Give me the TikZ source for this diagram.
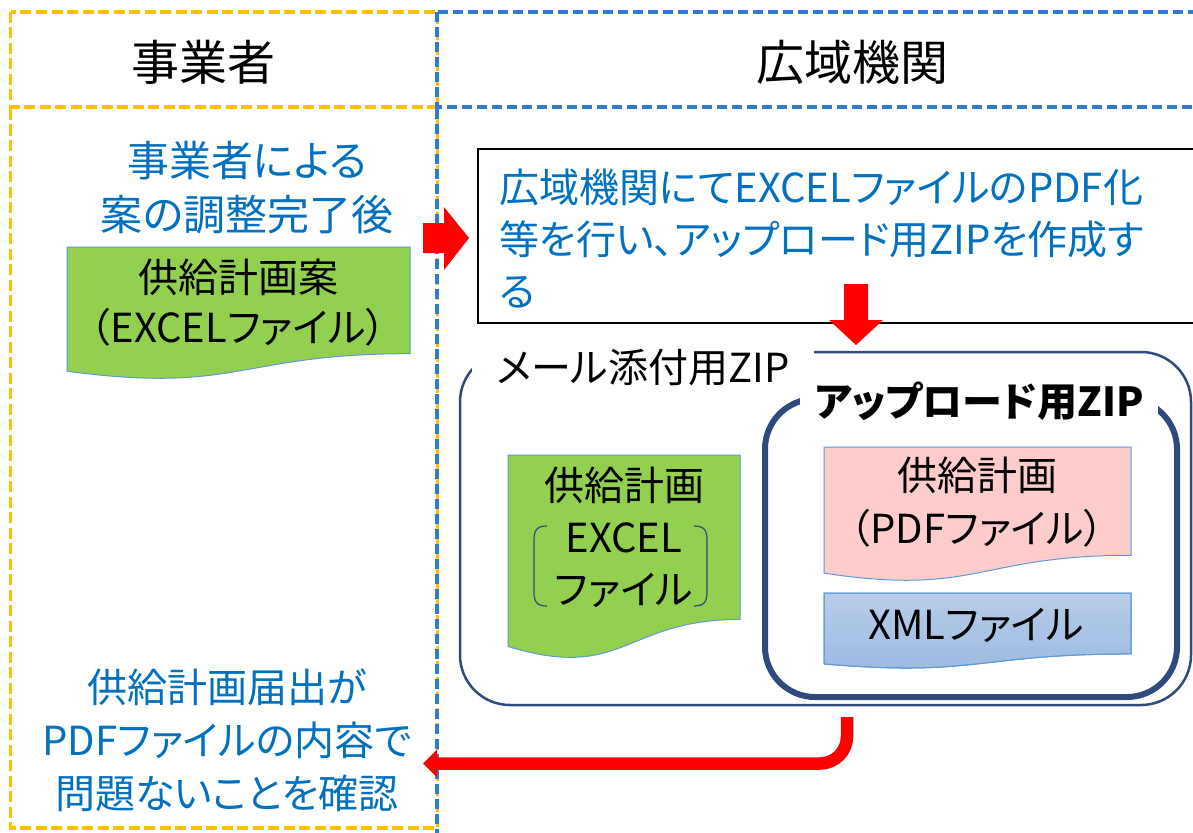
\documentclass[tikz,border=0pt]{standalone}
\usepackage{fontspec}
\setmainfont{Noto Sans CJK JP}[RawFeature=+palt]
\usetikzlibrary{arrows.meta}
\definecolor{ybox}{HTML}{FFC000}
\definecolor{bbox}{HTML}{2E7CD0}
\definecolor{btext}{HTML}{0070C0}
\definecolor{navy}{HTML}{2F4A7E}
\definecolor{gdoc}{HTML}{92D050}
\definecolor{docline}{HTML}{5B9BD5}
\definecolor{pdoc}{HTML}{FFCCCC}
\definecolor{xmltop}{HTML}{B8CDEA}
\definecolor{xmlbot}{HTML}{98B9E0}
\definecolor{redarrow}{HTML}{FF0000}
\newcommand\docpath[4]{(#1,#2) -- (#3,#2) -- (#3,{#2+0.802*#4}) .. controls ({(#1+#3)/2},{#2+0.802*#4}) and ({(#1+#3)/2},{#2+1.107*#4}) .. (#1,{#2+0.934*#4}) -- cycle}
\tikzset{
  ydash/.style={draw=ybox, line width=3.2, dash pattern=on 11 off 4.5},
  bdash/.style={draw=bbox, line width=3.2, dash pattern=on 10 off 5},
  txt/.style={font=\fontsize{40}{52}\selectfont, align=center, inner sep=0},
  headtxt/.style={font=\fontsize{48}{56}\selectfont, inner sep=0},
  bluetxt/.style={txt, text=btext},
  docbox/.style={draw=docline, line width=1},
  blockarrow/.style={fill=redarrow, draw=none},
}
\begin{document}
\begin{tikzpicture}[x=1pt,y=-1pt]
\useasboundingbox (0,0) rectangle (1193,832);
\clip (0,0) rectangle (1193,832);
% lanes
\draw[ydash] (10.5,12) rectangle (437.5,107);
\draw[ydash] (10.5,109) -- (10.5,828) -- (437.5,828) -- (437.5,109);
\draw[bdash] (437,12) rectangle (1210,107);
\draw[bdash] (437,109) -- (437,850);
\node[headtxt] (hjigyo) at (203,62) {事業者};
\node[headtxt] (hkoiki) at (852,62) {広域機関};
% left top text
\node[bluetxt, font=\fontsize{42}{54}\selectfont] (tstart) at (247,188) {事業者による\\案の調整完了後};
% green doc 1
\path[docbox, fill=gdoc] \docpath{67}{247}{410}{133};
\node[txt, font=\fontsize{40}{50}\selectfont] (draftdoc) at (238,303) {供給計画案\\（EXCELファイル）};
% right arrow
\coordinate (ra) at (423,238);
\path[blockarrow] (ra) ++(0,-15) -- ++(21,0) -- ++(0,-16) -- (469,238) -- (444,270) -- (444,253) -- (423,253) -- cycle;
% black box
\draw[black, line width=2] (478,149) rectangle (1220,323);
\node[bluetxt, align=left, anchor=west] (tstep) at (499,239) {広域機関にてEXCELファイルのPDF化\\等を行い、アップロード用ZIPを作成す\\る};
% down arrow
\path[blockarrow] (844,284) -- (868,284) -- (868,320) -- (883,320) -- (856,345) -- (829,320) -- (844,320) -- cycle;
% outer mail zip box
\draw[navy, line width=2.5, rounded corners=50] (460,352) rectangle (1191,705);
\node[txt, fill=white, minimum width=342, minimum height=52] (mailzip) at (643,368) {メール添付用ZIP};
% inner upload zip box
\draw[navy, line width=6, rounded corners=50] (765,399) rectangle (1177,697);
\node[txt, fill=white, minimum width=358, minimum height=50, font=\fontsize{40}{50}\selectfont\bfseries] (upzip) at (979,401) {アップロード用ZIP};
% green doc 2
\path[docbox, fill=gdoc] \docpath{508}{455}{740}{205};
\node[txt, font=\fontsize{40}{52}\selectfont] (exceldoc) at (624,537) {供給計画\\EXCEL\\ファイル};
\draw[navy, line width=1.2] (547,526) .. controls (537,526) and (534,530) .. (534,540) -- (534,592) .. controls (534,602) and (537,606) .. (547,606);
\draw[navy, line width=1.2] (694,526) .. controls (704,526) and (707,530) .. (707,540) -- (707,592) .. controls (707,602) and (704,606) .. (694,606);
% pink doc
\path[docbox, fill=pdoc] \docpath{824}{447}{1131}{135};
\node[txt, font=\fontsize{40}{53}\selectfont] (pdfdoc) at (977,502) {供給計画\\（PDFファイル）};
% xml doc
\path[docbox, top color=xmltop, bottom color=xmlbot] \docpath{824}{593}{1131}{76};
\draw[docline, line width=1] \docpath{824}{593}{1131}{76};
\node[txt] (xmldoc) at (976,625) {XMLファイル};
% bottom-left text
\node[bluetxt, font=\fontsize{40}{53}\selectfont] (tcheck) at (227,740) {供給計画届出が\\PDFファイルの内容で\\問題ないことを確認};
% return arrow
\coordinate (bstart) at (847,717);
\coordinate (bend) at (423,763.5);
\draw[redarrow, line width=12.5, rounded corners=27, -{Triangle[length=14pt,width=27pt]}] (bstart) |- (bend);
\end{tikzpicture}
\end{document}
